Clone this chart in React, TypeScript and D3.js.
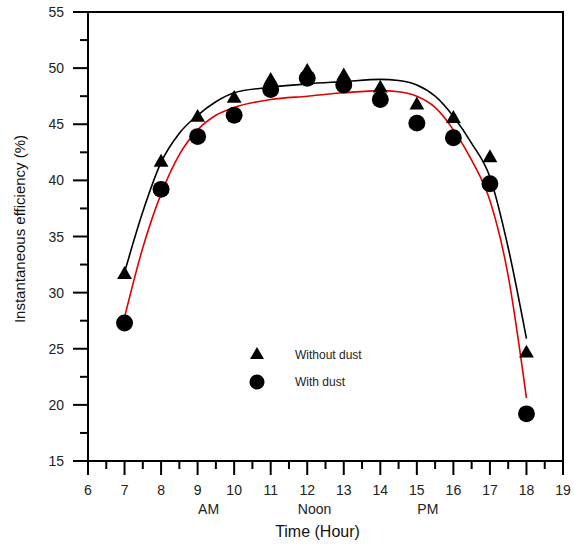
import React from "react";
import * as d3 from "d3";

const hours = [7, 8, 9, 10, 11, 12, 13, 14, 15, 16, 17, 18];
const withoutDust = [31.6, 41.6, 45.6, 47.3, 48.9, 49.7, 49.3, 48.2, 46.7, 45.5, 42.0, 24.6];
const withDust = [27.3, 39.2, 43.9, 45.8, 48.1, 49.1, 48.5, 47.2, 45.1, 43.8, 39.7, 19.2];

const fitHours = [7, 7.5, 8, 8.5, 9, 9.5, 10, 11, 12, 13, 14, 14.5, 15, 15.5, 16, 16.5, 17, 17.5, 18];
const fitWithout = [31.8, 37.2, 41.6, 44.2, 45.8, 47.0, 47.8, 48.3, 48.6, 48.8, 49.0, 48.9, 48.5, 47.5, 45.7, 43.3, 40.3, 34.0, 25.9];
const fitWith = [27.8, 34.0, 38.8, 42.3, 44.5, 45.8, 46.5, 47.2, 47.5, 47.8, 48.0, 47.9, 47.5, 46.5, 44.5, 41.8, 38.2, 31.5, 20.6];

const xTicks = [6, 7, 8, 9, 10, 11, 12, 13, 14, 15, 16, 17, 18, 19];
const yTicks = [15, 20, 25, 30, 35, 40, 45, 50, 55];
const periodLabels = ["AM", "Noon", "PM"];
const periodHours = [9.3, 12.2, 15.3];
const legendLabels = ["Without dust", "With dust"];

const W = 574, H = 544;
const L = 88, R = 563, T = 12, B = 461;
const FONT = "'Liberation Sans', Arial, sans-serif";

export default function App() {
  const x = d3.scaleLinear().domain([6, 19]).range([L, R]);
  const y = d3.scaleLinear().domain([15, 55]).range([B, T]);
  const line = d3.line<number>().curve(d3.curveMonotoneX);
  const blackPath = line(fitHours.map((h, i) => [x(h), y(fitWithout[i])]) as any);
  const redPath = line(fitHours.map((h, i) => [x(h), y(fitWith[i])]) as any);
  const tri = d3.symbol(d3.symbolTriangle, 95)()!;
  const circ = d3.symbol(d3.symbolCircle, 225)()!;
  const triLeg = d3.symbol(d3.symbolTriangle, 85)()!;
  const circLeg = d3.symbol(d3.symbolCircle, 180)()!;
  const xMinor = d3.range(6.5, 19, 1);
  const yMinor = d3.range(17.5, 55, 5);

  return (
    <svg width={W} height={H} style={{ position: "absolute", left: 0, top: 0 }} fontFamily={FONT}>
      <rect x={0} y={0} width={W} height={H} fill="#fff" />
      {/* curves */}
      <path d={blackPath!} fill="none" stroke="#000" strokeWidth={1.6} />
      <path d={redPath!} fill="none" stroke="#e00000" strokeWidth={1.6} />
      {/* frame */}
      <rect x={L} y={T} width={R - L} height={B - T} fill="none" stroke="#000" strokeWidth={2} />
      {/* y ticks */}
      {yTicks.map((v) => (
        <g key={"y" + v}>
          <line x1={L - 15} x2={L} y1={y(v)} y2={y(v)} stroke="#000" strokeWidth={2} />
          <text x={L - 24} y={y(v)} dy="0.36em" textAnchor="end" fontSize={14} fill="#222">{v}</text>
        </g>
      ))}
      {yMinor.map((v) => (
        <line key={"ym" + v} x1={L - 8} x2={L} y1={y(v)} y2={y(v)} stroke="#000" strokeWidth={2} />
      ))}
      {/* x ticks */}
      {xTicks.map((h) => (
        <g key={"x" + h}>
          <line x1={x(h)} x2={x(h)} y1={B} y2={B + 14} stroke="#000" strokeWidth={2} />
          <text x={x(h)} y={495} textAnchor="middle" fontSize={14} fill="#222">{h}</text>
        </g>
      ))}
      {xMinor.map((h) => (
        <line key={"xm" + h} x1={x(h)} x2={x(h)} y1={B} y2={B + 8} stroke="#000" strokeWidth={2} />
      ))}
      {periodLabels.map((p, i) => (
        <text key={p} x={x(periodHours[i])} y={514} textAnchor="middle" fontSize={14} fill="#222">{p}</text>
      ))}
      <text x={(L + R) / 2 - 8} y={537} textAnchor="middle" fontSize={16} fill="#111">Time (Hour)</text>
      <text transform={`translate(25,229) rotate(-90)`} textAnchor="middle" fontSize={15} fill="#111">
        Instantaneous efficiency (%)
      </text>
      {/* markers */}
      {hours.map((h, i) => (
        <path key={"t" + h} d={tri} transform={`translate(${x(h)},${y(withoutDust[i])})`} fill="#000" />
      ))}
      {hours.map((h, i) => (
        <path key={"c" + h} d={circ} transform={`translate(${x(h)},${y(withDust[i])})`} fill="#000" />
      ))}
      {/* legend */}
      <path d={triLeg} transform="translate(257,355)" fill="#000" />
      <text x={295} y={359} fontSize={12} fill="#222">{legendLabels[0]}</text>
      <path d={circLeg} transform="translate(257,382)" fill="#000" />
      <text x={295} y={386} fontSize={12} fill="#222">{legendLabels[1]}</text>
    </svg>
  );
}
